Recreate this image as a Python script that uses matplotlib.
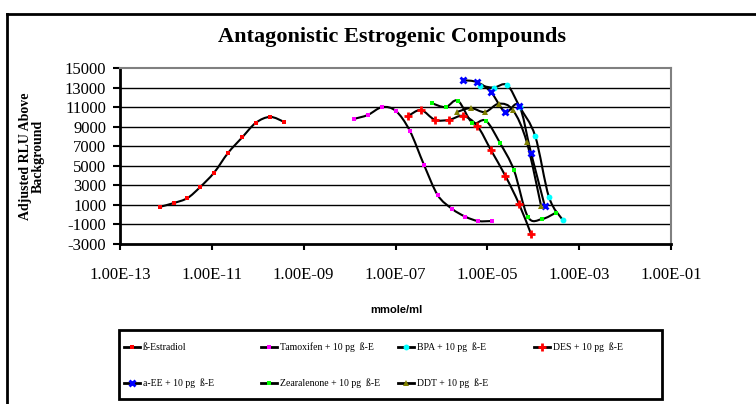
import numpy as np
import matplotlib
matplotlib.use('Agg')
import matplotlib.pyplot as plt
from matplotlib.path import Path
from matplotlib.patches import PathPatch, Rectangle
from matplotlib.lines import Line2D
from matplotlib.ticker import FixedLocator, FuncFormatter, NullLocator

# ---------------- data (mmole/ml, Adjusted RLU above background) ----------------
estradiol_x = [7.4e-13, 1.51e-12, 2.95e-12, 5.5e-12, 1.12e-11, 2.24e-11, 4.57e-11, 9.1e-11, 1.86e-10, 3.7e-10]
estradiol_y = [800, 1200, 1700, 2800, 4300, 6300, 7900, 9400, 10000, 9500]

tamoxifen_x = [1.26e-8, 2.51e-8, 5.13e-8, 1.02e-7, 2.04e-7, 4.17e-7, 8.3e-7, 1.7e-6, 3.3e-6, 6.3e-6, 1.26e-5]
tamoxifen_y = [9800, 10200, 11000, 10600, 8600, 5100, 2000, 600, -200, -650, -650]

bpa_x = [6.9e-6, 1.38e-5, 2.7e-5, 5.1e-5, 1.1e-4, 2.2e-4, 4.4e-4]
bpa_y = [13200, 13000, 13250, 11000, 8050, 1800, -550]

des_x = [1.9e-7, 3.6e-7, 7.2e-7, 1.48e-6, 2.95e-6, 6.0e-6, 1.2e-5, 2.45e-5, 4.9e-5, 8.9e-5]
des_y = [10100, 10700, 9700, 9700, 10100, 9100, 6600, 4000, 1100, -1950]

aee_x = [2.95e-6, 6.0e-6, 1.2e-5, 2.45e-5, 4.9e-5, 8.9e-5, 1.78e-4]
aee_y = [13750, 13550, 12550, 10500, 11150, 6350, 900]

zea_x = [6.2e-7, 1.23e-6, 2.29e-6, 4.7e-6, 9.3e-6, 1.9e-5, 3.8e-5, 7.6e-5, 1.55e-4, 3.1e-4]
zea_y = [11400, 11000, 11650, 9400, 9600, 7300, 4550, -200, -450, 200]

ddt_x = [2.19e-6, 4.37e-6, 8.9e-6, 1.78e-5, 3.6e-5, 7.2e-5, 1.48e-4]
ddt_y = [10500, 10900, 10500, 11350, 10700, 7450, 900]

series_labels = ['\u00df-Estradiol', 'Tamoxifen + 10 pg  \u00df-E', 'BPA + 10 pg  \u00df-E',
                 'DES + 10 pg  \u00df-E', 'a-EE + 10 pg  \u00df-E', 'Zearalenone + 10 pg  \u00df-E',
                 'DDT + 10 pg  \u00df-E']
y_ticks = [-3000, -1000, 1000, 3000, 5000, 7000, 9000, 11000, 13000, 15000]
x_ticks = [1e-13, 1e-11, 1e-9, 1e-7, 1e-5, 1e-3, 1e-1]

# ---------------- styles ----------------
styles = [
    dict(marker='s', color='#FF0000', ms=3.2, mew=0),
    dict(marker='s', color='#FF00FF', ms=3.2, mew=0),
    dict(marker='o', color='#00FFFF', ms=4.2, mew=0),
    dict(marker='+', color='#FF0000', ms=6, mew=2),
    dict(marker='x', color='#0000FF', ms=4.5, mew=2),
    dict(marker='s', color='#00FF00', ms=3.2, mew=0),
    dict(marker='^', color='#808000', ms=5, mew=0),
]
series = [(estradiol_x, estradiol_y), (tamoxifen_x, tamoxifen_y), (bpa_x, bpa_y),
          (des_x, des_y), (aee_x, aee_y), (zea_x, zea_y), (ddt_x, ddt_y)]

W, H = 756, 404
fig = plt.figure(figsize=(W / 100, H / 100), dpi=100)
serif = 'Liberation Serif'

def fx(px):
    return px / W

def fy(py):
    return 1 - py / H

# outer chart border (cropped)
fig.add_artist(Line2D([fx(7), fx(7)], [fy(14), 0], color='black', lw=2, transform=fig.transFigure))
fig.add_artist(Line2D([fx(7), 1], [fy(14), fy(14)], color='black', lw=2, transform=fig.transFigure))

L, R, T, B = 120, 671, 68, 244
ax = fig.add_axes([fx(L), fy(B), fx(R) - fx(L), fy(T) - fy(B)])
ax.set_xscale('log')
ax.set_xlim(1e-13, 1e-1)
ax.set_ylim(-3000, 15000)

for yv in y_ticks[1:-1]:
    ax.axhline(yv, color='black', lw=1.0, zorder=1)


def smooth_path(xs, ys):
    lx = np.log10(np.asarray(xs, float))
    yy = np.asarray(ys, float)
    P = np.column_stack([lx, yy])
    n = len(P)
    verts = [P[0]]
    codes = [Path.MOVETO]
    for i in range(n - 1):
        p0 = P[i - 1] if i > 0 else P[i]
        p1 = P[i]
        p2 = P[i + 1]
        p3 = P[i + 2] if i + 2 < n else P[i + 1]
        c1 = p1 + (p2 - p0) / 6.0
        c2 = p2 - (p3 - p1) / 6.0
        verts += [c1, c2, p2]
        codes += [Path.CURVE4] * 3
    V = np.array(verts)
    V[:, 0] = 10 ** V[:, 0]
    return Path(V, codes)

for (xs, ys), st in zip(series, styles):
    ax.add_patch(PathPatch(smooth_path(xs, ys), facecolor='none', edgecolor='black', lw=1.5, zorder=3))
    ax.plot(xs, ys, linestyle='none', marker=st['marker'], color=st['color'],
            markersize=st['ms'], markeredgewidth=st['mew'], zorder=4, clip_on=False)


def xfmt(v, p):
    e = int(round(np.log10(v)))
    return '1.00E%s%02d' % ('-' if e < 0 else '+', abs(e))

ax.yaxis.set_major_locator(FixedLocator(y_ticks))
ax.yaxis.set_major_formatter(FuncFormatter(lambda v, p: '%d' % v))
ax.xaxis.set_major_locator(FixedLocator(x_ticks))
ax.xaxis.set_minor_locator(NullLocator())
ax.xaxis.set_major_formatter(FuncFormatter(xfmt))
ax.tick_params(axis='y', direction='out', length=5, width=1.5, pad=5, labelsize=12)
ax.tick_params(axis='x', direction='out', length=4.5, width=1.5, pad=12, labelsize=12)
for lab in ax.get_xticklabels() + ax.get_yticklabels():
    lab.set_fontfamily(serif)

ax.spines['left'].set_linewidth(2)
ax.spines['bottom'].set_linewidth(2)
ax.spines['top'].set_color('#808080')
ax.spines['right'].set_color('#808080')
ax.spines['top'].set_linewidth(1.5)
ax.spines['right'].set_linewidth(1.5)

fig.text(fx(392), fy(37), 'Antagonistic Estrogenic Compounds', ha='center', va='center',
         fontsize=16, fontweight='bold', family=serif)
fig.text(fx(32), fy(156), 'Adjusted RLU Above\nBackground', ha='center', va='center',
         rotation=90, fontsize=10, fontweight='bold', family=serif, linespacing=1.0)
fig.text(fx(396), fy(310), 'mmole/ml', ha='center', va='center', fontsize=8,
         fontweight='bold', family='Liberation Sans')

# legend box (manual layout)
fig.add_artist(Rectangle((fx(119), fy(399)), fx(662) - fx(119), fy(330) - fy(399),
                         transform=fig.transFigure, fill=False, edgecolor='black', lw=2))
leg_pos = [(132, 347), (269, 347), (406, 347), (542, 347), (132, 383), (269, 383), (406, 383)]
for (mx, my), st, lab in zip(leg_pos, styles, series_labels):
    fig.add_artist(Line2D([fx(mx - 8), fx(mx + 8)], [fy(my), fy(my)], color='black', lw=2,
                          transform=fig.transFigure))
    fig.add_artist(Line2D([fx(mx)], [fy(my)], linestyle='none', marker=st['marker'], color=st['color'],
                          markersize=st['ms'], markeredgewidth=st['mew'], transform=fig.transFigure))
    fig.text(fx(mx + 11), fy(my), lab, ha='left', va='center', fontsize=7, family=serif)

fig.savefig('out.png', dpi=100)
